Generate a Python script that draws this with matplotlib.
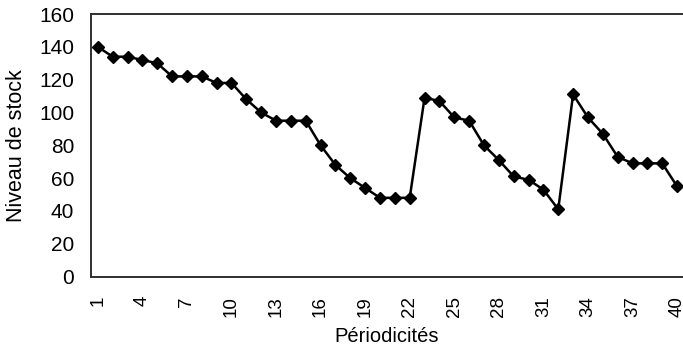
import numpy as np
import matplotlib.pyplot as plt

plt.rcParams['font.family'] = ['Liberation Sans', 'DejaVu Sans']

# stock level per period
periods = list(range(1, 41))
stock = [140, 134, 134, 132, 130, 122, 122, 122, 118, 118,
         108, 100, 95, 95, 95, 80, 68, 60, 54, 48,
         48, 48, 109, 107, 97, 95, 80, 71, 61, 59,
         53, 41, 111, 97, 87, 73, 69, 69, 69, 55]
x_ticks = list(range(1, 41, 3))
y_ticks = list(range(0, 161, 20))

fig = plt.figure(figsize=(6.83, 3.51), dpi=100)
ax = fig.add_axes([0.133, 0.212, 0.867, 0.748])

ax.plot(periods, stock, color='black', lw=1.8, marker='D', markersize=6,
        clip_on=False, zorder=3)

ax.set_xlim(0.53, 40.4)
ax.set_ylim(0, 160)
ax.set_xticks(x_ticks)
ax.set_xticklabels([str(t) for t in x_ticks], rotation=90)
ax.set_yticks(y_ticks)
ax.tick_params(axis='y', length=0, labelsize=15, pad=12)
ax.tick_params(axis='x', length=0, labelsize=13.5, pad=14)

for side in ['left', 'bottom', 'top']:
    ax.spines[side].set_color('#303030')
    ax.spines[side].set_linewidth(1.4)
ax.spines['right'].set_visible(False)

ax.set_ylabel('Niveau de stock', fontsize=15.5, labelpad=9)
ax.set_xlabel('Périodicités', fontsize=14.5, labelpad=7)

fig.savefig('out.png', dpi=100)
